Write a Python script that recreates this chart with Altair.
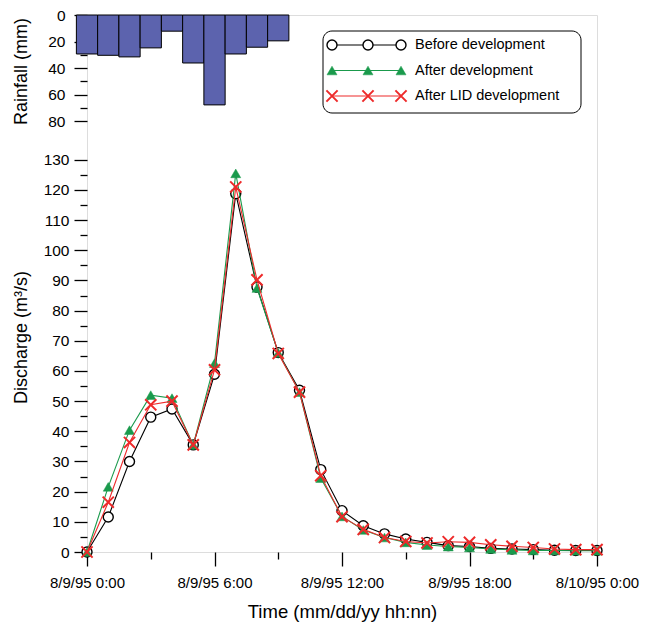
import altair as alt
import pandas as pd

FONT = "Liberation Sans"

# ---- data ----
hours = list(range(25))
before = [0, 11.6, 30.0, 44.7, 47.4, 35.5, 58.9, 118.8, 87.8, 66.1, 53.6, 27.3, 13.7,
          8.7, 6.0, 4.3, 3.2, 2.1, 1.8, 1.2, 1.0, 0.8, 0.6, 0.5, 0.5]
after = [0, 21.6, 40.4, 52.0, 51.0, 35.5, 62.6, 125.5, 87.5, 66.0, 53.0, 24.5, 11.8,
         7.3, 4.8, 3.2, 2.3, 1.8, 1.5, 1.0, 0.7, 0.5, 0.5, 0.4, 0.4]
lid = [0, 16.5, 36.3, 48.8, 50.0, 35.5, 60.4, 121.0, 90.2, 65.8, 53.0, 25.3, 11.7,
       7.5, 4.8, 3.5, 3.0, 3.4, 3.2, 2.4, 1.9, 1.5, 1.0, 0.8, 0.8]
rain_hours = list(range(10))
rain = [29.4, 30.4, 31.6, 24.8, 12.2, 36.2, 67.8, 29.4, 24.3, 19.5]

x_labels = ["8/9/95 0:00", "8/9/95 6:00", "8/9/95 12:00", "8/9/95 18:00", "8/10/95 0:00"]
series_names = ["Before development", "After development", "After LID development"]

BLACK = "#000000"
GREEN = "#1a9a4c"
RED = "#ee2a2a"
BAR = "#5c63ae"
XPATH = "M-1,-1L1,1M-1,1L1,-1"

dis = pd.DataFrame({"hour": hours, "before": before, "after": after, "lid": lid})
rdf = pd.DataFrame({"hour": rain_hours, "rain": rain})

label_arr = "[" + ",".join("'" + s + "'" for s in x_labels) + "]"

common_axis = dict(
    domain=False, grid=False, labelFont=FONT, titleFont=FONT, labelColor="black",
    titleColor="black", tickColor="black", tickWidth=1.3, titleFontWeight="normal",
    labelOverlap=False, labelBound=False, labelFlush=False,
)

xscale = alt.Scale(domain=[0, 24], nice=False, zero=False)
xaxis = alt.Axis(
    title="Time (mm/dd/yy hh:nn)",
    values=list(range(0, 25, 3)),
    labelExpr="datum.value % 6 == 0 ? " + label_arr + "[datum.value / 6] : ''",
    tickSize={"condition": {"test": "datum.value % 6 == 0", "value": 14}, "value": 7},
    labelFontSize=15, labelPadding=9, titleFontSize=18.5,
    titleX=255, titleY=65, titleAlign="center", titleBaseline="alphabetic",
    **common_axis,
)

yscale = alt.Scale(domain=[0, 178], nice=False, zero=True)
yaxis = alt.Axis(
    title="Discharge (m³/s)", orient="left",
    values=list(range(0, 135, 5)),
    labelExpr="datum.value % 10 == 0 ? datum.label : ''",
    tickSize={"condition": {"test": "datum.value % 10 == 0", "value": 13}, "value": 7},
    labelFontSize=15.5, labelPadding=5, titleFontSize=18,
    titleX=-66, titleY=322, titleAngle=270, titleAlign="center", titleBaseline="middle",
    **common_axis,
)

rscale = alt.Scale(domain=[0, 405], nice=False, zero=True, reverse=True)
raxis = alt.Axis(
    title="Rainfall (mm)", orient="left",
    values=list(range(0, 90, 10)),
    labelExpr="datum.value % 20 == 0 ? datum.label : ''",
    tickSize={"condition": {"test": "datum.value % 20 == 0", "value": 13}, "value": 7},
    labelFontSize=15.5, labelPadding=9, titleFontSize=18,
    titleX=-66, titleY=56, titleAngle=270, titleAlign="center", titleBaseline="middle",
    **common_axis,
)

bars = alt.Chart(rdf).transform_calculate(
    x0="datum.hour - 0.5", x1="datum.hour + 0.5", base="0"
).mark_bar(fill=BAR, stroke="black", strokeWidth=1, opacity=1).encode(
    x=alt.X("x0:Q", scale=xscale, axis=xaxis),
    x2="x1:Q",
    y=alt.Y("base:Q", scale=rscale, axis=raxis),
    y2="rain:Q",
)


def series_layers(field, color, point_kw):
    base = alt.Chart(dis).encode(
        x=alt.X("hour:Q", scale=xscale, axis=xaxis),
        y=alt.Y(field + ":Q", scale=yscale, axis=yaxis),
    )
    line = base.mark_line(color=color, strokeWidth=1.1)
    pts = base.mark_point(opacity=1, **point_kw)
    return [line, pts]


pk_before = dict(shape="circle", filled=True, fill="white", stroke=BLACK, strokeWidth=1.4, size=100)
pk_after = dict(shape="triangle-up", filled=True, fill=GREEN, stroke=GREEN, strokeWidth=0.5, size=100)
pk_lid = dict(shape=XPATH, filled=False, stroke=RED, strokeWidth=2, size=125)

discharge = alt.layer(
    *series_layers("before", BLACK, pk_before),
    *series_layers("after", GREEN, pk_after),
    *series_layers("lid", RED, pk_lid),
)

# ---- manual legend (pixel positions relative to plot origin) ----
one = pd.DataFrame({"k": [0]})
legend_layers = [
    alt.Chart(one).mark_rect(fill="white", stroke="black", strokeWidth=1, cornerRadius=9).encode(
        x=alt.value(236), x2=alt.value(494), y=alt.value(16), y2=alt.value(98)
    )
]
row_y = [30, 55.5, 81]
mark_x = [245, 281, 314]
colors = [BLACK, GREEN, RED]
pkinds = [pk_before, pk_after, pk_lid]
for name, yy, col, pk in zip(series_names, row_y, colors, pkinds):
    legend_layers.append(
        alt.Chart(one).mark_rule(color=col, strokeWidth=1.1).encode(
            x=alt.value(mark_x[0]), x2=alt.value(mark_x[-1]), y=alt.value(yy)
        )
    )
    for mx in mark_x:
        legend_layers.append(
            alt.Chart(one).mark_point(opacity=1, **pk).encode(x=alt.value(mx), y=alt.value(yy))
        )
    legend_layers.append(
        alt.Chart(pd.DataFrame({"label": [name]})).mark_text(
            font=FONT, fontSize=14.5, align="left", baseline="middle", color="black"
        ).encode(x=alt.value(328), y=alt.value(yy), text="label:N")
    )

chart = alt.layer(bars, discharge, *legend_layers).resolve_scale(
    y="independent"
).properties(
    width=510, height=537,
    padding={"left": 79, "top": 7, "right": 45, "bottom": 70},
    autosize=alt.AutoSizeParams(type="none"),
).configure_view(stroke="black", strokeWidth=1.5).configure(background="white")

chart.save("out.html", embed_options={"renderer": "svg", "actions": False})
